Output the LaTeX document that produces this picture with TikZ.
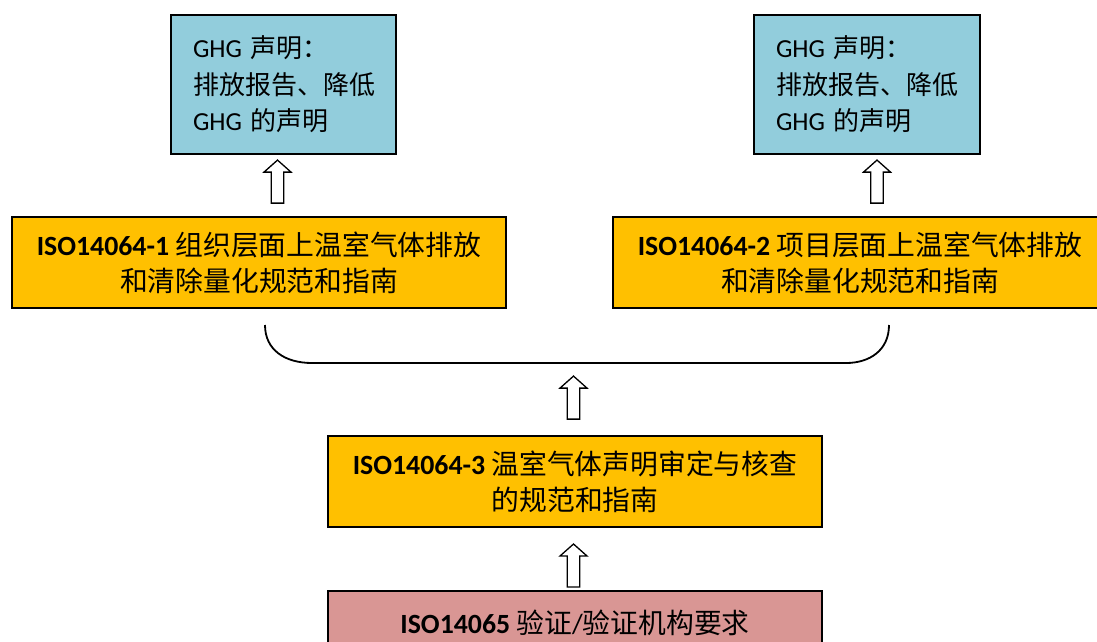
\documentclass[tikz,border=0pt]{standalone}
\usepackage{fontspec}
\setmainfont{Carlito}
\newfontfamily\cjk{Noto Sans CJK SC}
\usetikzlibrary{calc}
\definecolor{ghgblue}{HTML}{92CDDC}
\definecolor{isoorange}{HTML}{FFC000}
\definecolor{verifypink}{HTML}{D99694}
\tikzset{
  box/.style={draw=black, line width=1.8pt, inner sep=0pt},
  claim/.style={box, fill=ghgblue, minimum height=139pt, text width=181pt,
    inner xsep=22pt, align=left, font=\fontsize{26}{36.5}\selectfont},
  standard/.style={box, fill=isoorange, minimum width=494pt, minimum height=91pt,
    align=center, font=\fontsize{27.8}{36}\selectfont},
  verify/.style={box, fill=verifypink, minimum width=494pt, minimum height=64pt,
    align=center, font=\fontsize{27.8}{36}\selectfont},
  arrowline/.style={draw=black, fill=white, line width=1.3pt, line join=miter},
  bracket/.style={draw=black, line width=1.8pt},
  hollowup/.pic={
    \path[arrowline] (-6.25,0) -- (-6.25,-31) -- (-13.5,-31) -- (0,-43)
      -- (13.5,-31) -- (6.25,-31) -- (6.25,0) -- cycle;
  }
}
\begin{document}
\begin{tikzpicture}[x=1pt,y=-1pt]
  \clip (0,0) rectangle (1097,642);
  \fill[white] (0,0) rectangle (1097,642);

  % GHG claims
  \node[claim] (blueL) at (283.5,84.5)
    {GHG {\cjk 声明：}\\{\cjk 排放报告、降低}\\GHG {\cjk 的声明}};
  \node[claim, text width=182pt] (blueR) at (867,84.5)
    {GHG {\cjk 声明：}\\{\cjk 排放报告、降低}\\GHG {\cjk 的声明}};

  % ISO 14064 parts 1 and 2
  \node[standard] (isoA) at (259,262.5)
    {{\bfseries ISO14064-1} {\cjk 组织层面上温室气体排放}\\{\cjk 和清除量化规范和指南}};
  \node[standard] (isoB) at (860,262.5)
    {{\bfseries ISO14064-2} {\cjk 项目层面上温室气体排放}\\{\cjk 和清除量化规范和指南}};

  % ISO 14064 part 3
  \node[standard] (isoC) at (575,481.5)
    {{\bfseries ISO14064-3} {\cjk 温室气体声明审定与核查}\\{\cjk 的规范和指南}};

  % ISO 14065
  \node[verify, anchor=north] (isoV) at (575,590)
    {{\bfseries ISO14065} {\cjk 验证}/{\cjk 验证机构要求}};

  % block arrows between the levels
  \pic at ([xshift=18.5pt, yshift=13pt]isoA.north) {hollowup};
  \pic at ([xshift=17pt, yshift=13pt]isoB.north) {hollowup};
  \pic at ([xshift=-1.5pt, yshift=16pt]isoC.north) {hollowup};
  \pic at ([xshift=-1.5pt, yshift=3pt]isoV.north) {hollowup};

  % bracket gathering parts 1 and 2
  \coordinate (brL) at (265,325);
  \coordinate (brR) at (889,325);
  \draw[bracket] (brL) .. controls (265,350) and (285,363) .. (312,363)
    -- (846,363) .. controls (870,363) and (889,350) .. (brR);
\end{tikzpicture}
\end{document}
